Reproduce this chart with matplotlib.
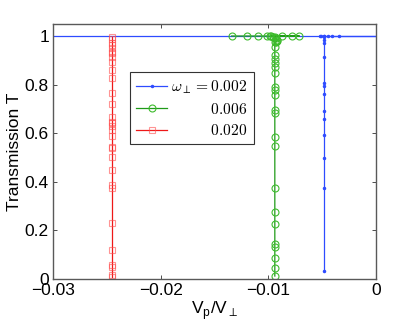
import numpy as np
import matplotlib
matplotlib.use("Agg")
import matplotlib.pyplot as plt
from matplotlib.ticker import FuncFormatter

plt.rcParams['font.family'] = ['Liberation Sans', 'DejaVu Sans']
plt.rcParams['mathtext.fontset'] = 'cm'

# omega = 0.002 (blue): flat part at T=1, then drop at Vp/V ~ -0.0048
blue_x = [-0.035, -0.00524, -0.00509, -0.00481, -0.00449, -0.00412, -0.00344, 0.002,
          -0.0048, -0.0048, -0.0048, -0.0048, -0.0048, -0.0048, -0.0048, -0.0048,
          -0.0048, -0.0048, -0.0048, -0.0048, -0.0048, -0.0048]
blue_t = [1.0, 1.0, 1.0, 1.0, 1.0, 1.0, 1.0, 1.0,
          1.0, 0.995, 0.985, 0.97, 0.912, 0.808, 0.794, 0.761,
          0.693, 0.66, 0.593, 0.499, 0.374, 0.032]

# omega = 0.006 (green)
green_x = [-0.01341, -0.01202, -0.01099, -0.01016, -0.00985, -0.00877, -0.00784, -0.00713,
           -0.0098, -0.0096, -0.0094, -0.0093, -0.0092, -0.0092, -0.0093,
           -0.0094, -0.0094, -0.0094, -0.0094, -0.0094, -0.0094, -0.0094, -0.0094,
           -0.0094, -0.0094, -0.0094, -0.0094, -0.0094, -0.0094, -0.0094, -0.0094,
           -0.0094, -0.0094, -0.0094, -0.0094, -0.0094, -0.0094]
green_t = [1.0, 1.0, 1.0, 1.0, 1.0, 1.0, 1.0, 1.0,
           1.0, 0.998, 0.995, 0.99, 0.985, 0.98, 0.975,
           0.977, 0.956, 0.922, 0.904, 0.888, 0.874, 0.846, 0.791,
           0.778, 0.757, 0.695, 0.684, 0.583, 0.547, 0.376, 0.277,
           0.225, 0.144, 0.133, 0.085, 0.044, 0.012]

# omega = 0.020 (red)
red_t = [0.997, 0.986, 0.972, 0.963, 0.949, 0.935, 0.929, 0.915, 0.894, 0.860,
         0.826, 0.767, 0.719, 0.668, 0.647, 0.641, 0.630, 0.613, 0.588, 0.544,
         0.538, 0.503, 0.449, 0.387, 0.373, 0.229, 0.119, 0.058, 0.048, 0.016, 0.007]
red_x = [-0.02455] * len(red_t)

labels = [r'$\omega_\perp = 0.002$', r'$0.006$', r'$0.020$']

fig = plt.figure(figsize=(4.15, 3.27), dpi=100)
ax = fig.add_axes([0.128, 0.147, 0.778, 0.78])

ax.plot(blue_x, blue_t, '-', color='#2e4bff', lw=0.9, marker='.', ms=3, label=labels[0])
ax.plot(green_x, green_t, '-', color='#1f9a18', lw=0.9, marker='o', ms=5,
        mfc='none', mec='#3dbb2c', mew=0.8, label=labels[1])
ax.plot(red_x, red_t, '-', color='#ee1818', lw=0.9, marker='s', ms=4.5,
        mfc='none', mec=(1, 0.3, 0.3, 0.6), mew=0.8, label=labels[2])

ax.set_xlim(-0.03, 0)
ax.set_ylim(0, 1.05)
ax.set_xticks([-0.03, -0.02, -0.01, 0])
ax.set_yticks([0, 0.2, 0.4, 0.6, 0.8, 1])
ax.xaxis.set_major_formatter(FuncFormatter(lambda v, p: ('%g' % v).replace('-', '\u2212')))
ax.yaxis.set_major_formatter(FuncFormatter(lambda v, p: '%g' % v))
ax.tick_params(direction='in', top=True, right=True, labelsize=12.5, length=3,
               width=0.7, color='0.3', pad=3)
for s in ax.spines.values():
    s.set_color('0.35')
    s.set_linewidth(1.0)

ax.set_ylabel('Transmission T', fontsize=12.5, labelpad=2)
ax.set_xlabel(r'V$_\mathregular{p}$/V$_\perp$', fontsize=12.5, labelpad=1,
              math_fontfamily='dejavusans')

leg = ax.legend(loc='upper left', bbox_to_anchor=(0.238, 0.812), borderaxespad=0,
                fancybox=False, edgecolor='0.2', framealpha=1, fontsize=11.2,
                handlelength=2.0, handletextpad=0.25, labelspacing=0.4,
                borderpad=0.4)
leg.get_frame().set_linewidth(0.8)

# right-align the legend labels by padding the shorter ones
fig.canvas.draw()
renderer = fig.canvas.get_renderer()
texts = leg.get_texts()
target = texts[0].get_window_extent(renderer).width
for t, lab in zip(texts[1:], labels[1:]):
    body = lab.strip('$')
    t.set_text(r'$\hspace{0}' + body + '$')
    w0 = t.get_window_extent(renderer).width
    t.set_text(r'$\hspace{1}' + body + '$')
    w1 = t.get_window_extent(renderer).width
    n = (target - w0) / (w1 - w0)
    t.set_text(r'$\hspace{%.3f}' % n + body + '$')

fig.savefig('out.png', dpi=100)
